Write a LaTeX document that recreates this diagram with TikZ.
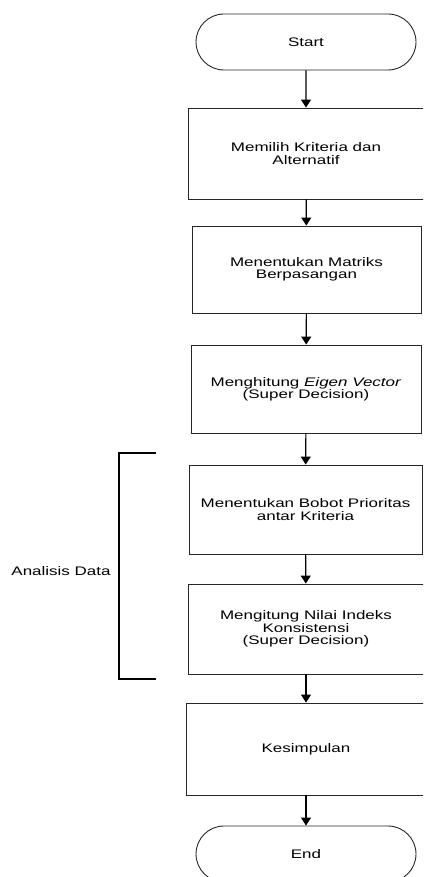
\documentclass[tikz,border=0pt]{standalone}
\usepackage{fontspec}
\setmainfont[FakeStretch=1.37]{Liberation Sans}
\usetikzlibrary{arrows.meta,shapes.misc}

\tikzset{
  labelfont/.style={font=\fontsize{12.4}{12.4}\selectfont},
  flowbox/.style={draw=black!85, line width=0.9pt, rectangle, align=center,
    labelfont},
  terminal/.style={draw=black!85, line width=0.9pt, rounded rectangle,
    minimum width=220pt, minimum height=56pt, inner sep=0pt, labelfont},
  flowarrow/.style={draw=black, line width=1.1pt,
    -{Triangle[length=8pt,width=10pt]}},
  bracketline/.style={draw=black, line width=2.6pt},
}

\begin{document}
\begin{tikzpicture}[x=1pt, y=-1pt]
  \useasboundingbox (0,0) rectangle (423,877);
  \clip (0,0) rectangle (423,877);

  % main flow, top to bottom
  \node[terminal] (start) at (306,42) {Start};
  \node[flowbox, minimum width=236pt, minimum height=91pt] (pilih) at (306,153.5)
    {Memilih Kriteria dan\\Alternatif};
  \node[flowbox, minimum width=229pt, minimum height=87pt] (matriks) at (306.5,269.5)
    {Menentukan Matriks\\Berpasangan};
  \node[flowbox, minimum width=230pt, minimum height=88pt] (eigen) at (306,389)
    {Menghitung \textit{Eigen Vector}\\(Super Decision)};
  \node[flowbox, minimum width=233pt, minimum height=89pt] (bobot) at (305.5,509.5)
    {Menentukan Bobot Prioritas\\antar Kriteria};
  \node[flowbox, minimum width=236pt, minimum height=90pt] (indeks) at (306,629)
    {Mengitung Nilai Indeks\\Konsistensi\\(Super Decision)};
  \node[flowbox, minimum width=240pt, minimum height=92pt] (simpul) at (306,749)
    {Kesimpulan};
  \node[terminal] (end) at (306,854) {End};

  % connectors
  \draw[flowarrow] (start) -- (pilih);
  \draw[flowarrow] (pilih) -- (matriks);
  \draw[flowarrow] (matriks) -- (eigen);
  \draw[flowarrow] (eigen) -- (bobot);
  \draw[flowarrow] (bobot) -- (indeks);
  \draw[flowarrow] (indeks) -- (simpul);
  \draw[flowarrow] (simpul) -- (end);

  % bracket grouping the analysis steps
  \coordinate (bt) at (156,453);
  \coordinate (bb) at (156,679);
  \draw[bracketline] (bt) -- (119,453) -- (119,679) -- (bb);
  \node[labelfont] (analisis) at (61,571) {Analisis Data};
\end{tikzpicture}
\end{document}
